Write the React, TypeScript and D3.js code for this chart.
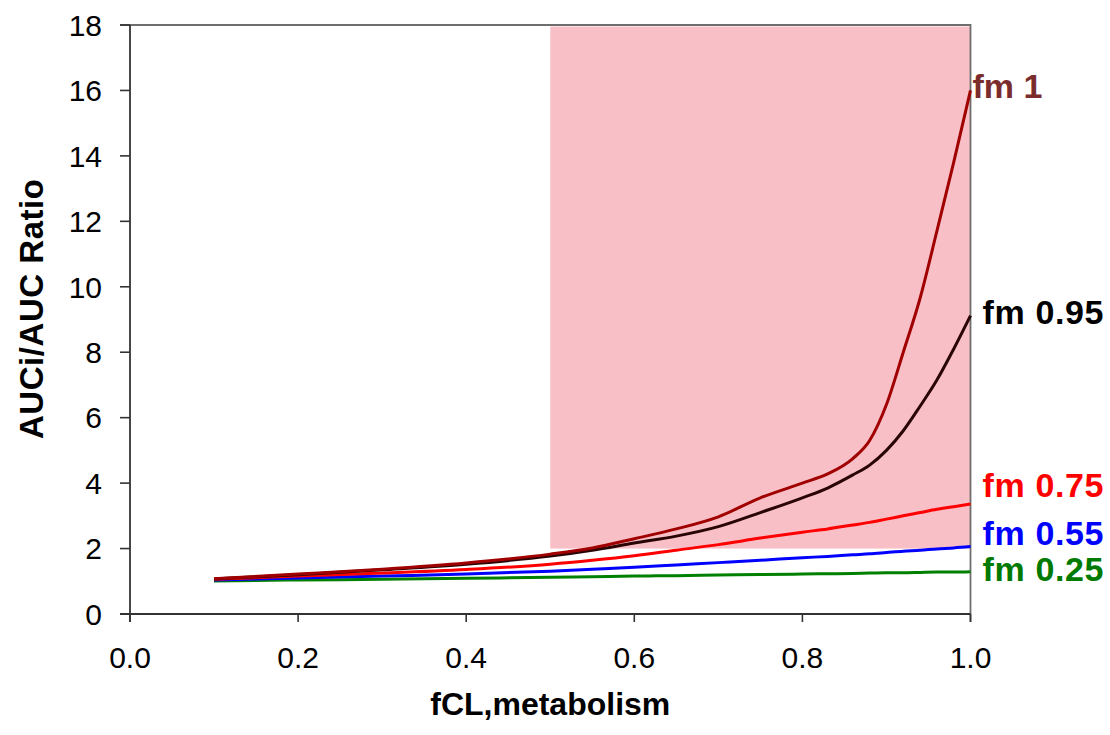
import React, { useRef, useEffect } from "react";
import * as d3 from "d3";

const W = 1110;
const H = 735;

const fclValues = [0.1, 0.2, 0.3, 0.4, 0.5, 0.55, 0.6, 0.65, 0.7, 0.75, 0.8, 0.83, 0.86, 0.88, 0.9, 0.92, 0.94, 0.96, 0.98, 1.0];

const fm100 = [1.08, 1.22, 1.37, 1.56, 1.83, 2.02, 2.3, 2.6, 2.97, 3.55, 4.0, 4.28, 4.75, 5.3, 6.4, 8.0, 9.65, 11.7, 13.8, 16.0];
const fm095 = [1.07, 1.2, 1.35, 1.52, 1.77, 1.95, 2.17, 2.38, 2.67, 3.1, 3.55, 3.85, 4.25, 4.55, 5.0, 5.6, 6.35, 7.15, 8.1, 9.12];
const fm075 = [1.06, 1.16, 1.25, 1.36, 1.52, 1.64, 1.78, 1.95, 2.12, 2.32, 2.5, 2.6, 2.72, 2.8, 2.9, 3.0, 3.1, 3.2, 3.28, 3.36];
const fm055 = [1.04, 1.1, 1.16, 1.22, 1.31, 1.37, 1.43, 1.5, 1.57, 1.64, 1.72, 1.76, 1.81, 1.84, 1.88, 1.92, 1.95, 1.99, 2.02, 2.06];
const fm025 = [1.01, 1.04, 1.06, 1.09, 1.12, 1.14, 1.16, 1.17, 1.19, 1.21, 1.22, 1.23, 1.24, 1.25, 1.26, 1.26, 1.27, 1.28, 1.28, 1.29];

const seriesNames = ["fm 0.25", "fm 0.55", "fm 0.75", "fm 0.95", "fm 1"];
const seriesValues = [fm025, fm055, fm075, fm095, fm100];
const lineColors = ["#008000", "#0000ff", "#ff0000", "#2a0505", "#a00000"];
const labelColors = ["#007a00", "#0000ff", "#ff0000", "#000000", "#7b2d2d"];
// label baseline offsets (px) relative to the line end
const labelDy = [9, -2, -7, 8, 8];
const labelDx = [12, 12, 12, 12, 2];

const xTicks = [0, 0.2, 0.4, 0.6, 0.8, 1.0];
const yTicks = [0, 2, 4, 6, 8, 10, 12, 14, 16, 18];

// shaded region: fCL 0.5-1.0, ratio 2-18
const shadeX = [0.5, 1.0];
const shadeY = [2, 18];

const App = () => {
	const svgRef = useRef(null);

	useEffect(() => {
		const svg = d3.select(svgRef.current);
		svg.selectAll("*").remove();

		const left = 130;
		const right = 970.5;
		const top = 25;
		const bottom = 614;
		const font = "Liberation Sans, Arial, sans-serif";

		const x = d3.scaleLinear().domain([0, 1]).range([left, right]);
		const y = d3.scaleLinear().domain([0, 18]).range([bottom, top]);

		svg.append("rect")
			.attr("x", x(shadeX[0]))
			.attr("y", y(shadeY[1]) + 1.5)
			.attr("width", x(shadeX[1]) - x(shadeX[0]))
			.attr("height", y(shadeY[0]) - y(shadeY[1]) - 1.5)
			.attr("fill", "#f9bfc7");

		// frame top and right
		svg.append("path")
			.attr("d", `M${left - 10},${top}H${right}V${bottom + 8}`)
			.attr("fill", "none")
			.attr("stroke", "#6e6e6e")
			.attr("stroke-width", 1.8);

		const line = d3
			.line()
			.x((d) => x(d[0]))
			.y((d) => y(d[1]))
			.curve(d3.curveMonotoneX);

		seriesValues.forEach((vals, i) => {
			const pts = fclValues.map((f, j) => [f, vals[j]]);
			svg.append("path")
				.datum(pts)
				.attr("d", line)
				.attr("fill", "none")
				.attr("stroke", lineColors[i])
				.attr("stroke-width", 3);

			const last = pts[pts.length - 1];
			svg.append("text")
				.attr("x", x(last[0]) + labelDx[i])
				.attr("y", y(last[1]) + labelDy[i])
				.attr("fill", labelColors[i])
				.attr("font-family", font)
				.attr("font-weight", "bold")
				.attr("font-size", 34)
				.attr("textLength", seriesNames[i] === "fm 1" ? null : 121)
				.text(seriesNames[i]);
		});

		// y axis
		const yAxis = svg.append("g").attr("transform", `translate(${left},0)`);
		yAxis.append("line")
			.attr("x1", 0).attr("x2", 0)
			.attr("y1", top).attr("y2", bottom + 8)
			.attr("stroke", "#333").attr("stroke-width", 1.8);
		yAxis.selectAll(".tk")
			.data(yTicks)
			.enter()
			.append("line")
			.attr("x1", -10).attr("x2", 0)
			.attr("y1", (d) => y(d)).attr("y2", (d) => y(d))
			.attr("stroke", "#333").attr("stroke-width", 1.6);
		yAxis.selectAll(".lb")
			.data(yTicks)
			.enter()
			.append("text")
			.attr("x", -28)
			.attr("y", (d) => y(d))
			.attr("dy", "0.36em")
			.attr("text-anchor", "end")
			.attr("font-family", font)
			.attr("font-size", 30)
			.attr("fill", "#000")
			.text((d) => d);

		// x axis
		const xAxis = svg.append("g").attr("transform", `translate(0,${bottom})`);
		xAxis.append("line")
			.attr("x1", left - 10).attr("x2", right)
			.attr("y1", 0).attr("y2", 0)
			.attr("stroke", "#333").attr("stroke-width", 1.8);
		xAxis.selectAll(".tk")
			.data(xTicks)
			.enter()
			.append("line")
			.attr("x1", (d) => x(d)).attr("x2", (d) => x(d))
			.attr("y1", 0).attr("y2", 8)
			.attr("stroke", "#333").attr("stroke-width", 1.6);
		xAxis.selectAll(".lb")
			.data(xTicks)
			.enter()
			.append("text")
			.attr("x", (d) => x(d))
			.attr("y", 54)
			.attr("text-anchor", "middle")
			.attr("font-family", font)
			.attr("font-size", 30)
			.attr("fill", "#000")
			.text((d) => d3.format(".1f")(d));

		svg.append("text")
			.attr("x", (left + right) / 2)
			.attr("y", 715)
			.attr("text-anchor", "middle")
			.attr("font-family", font)
			.attr("font-weight", "bold")
			.attr("font-size", 32)
			.text("fCL,metabolism");

		svg.append("text")
			.attr("transform", `translate(43,309) rotate(-90)`)
			.attr("text-anchor", "middle")
			.attr("font-family", font)
			.attr("font-weight", "bold")
			.attr("font-size", 33)
			.attr("textLength", 260)
			.text("AUCi/AUC Ratio");
	}, []);

	return (
		<svg
			ref={svgRef}
			width={W}
			height={H}
			style={{ position: "absolute", left: 0, top: 0, background: "#fff" }}
		/>
	);
};

export default App;
